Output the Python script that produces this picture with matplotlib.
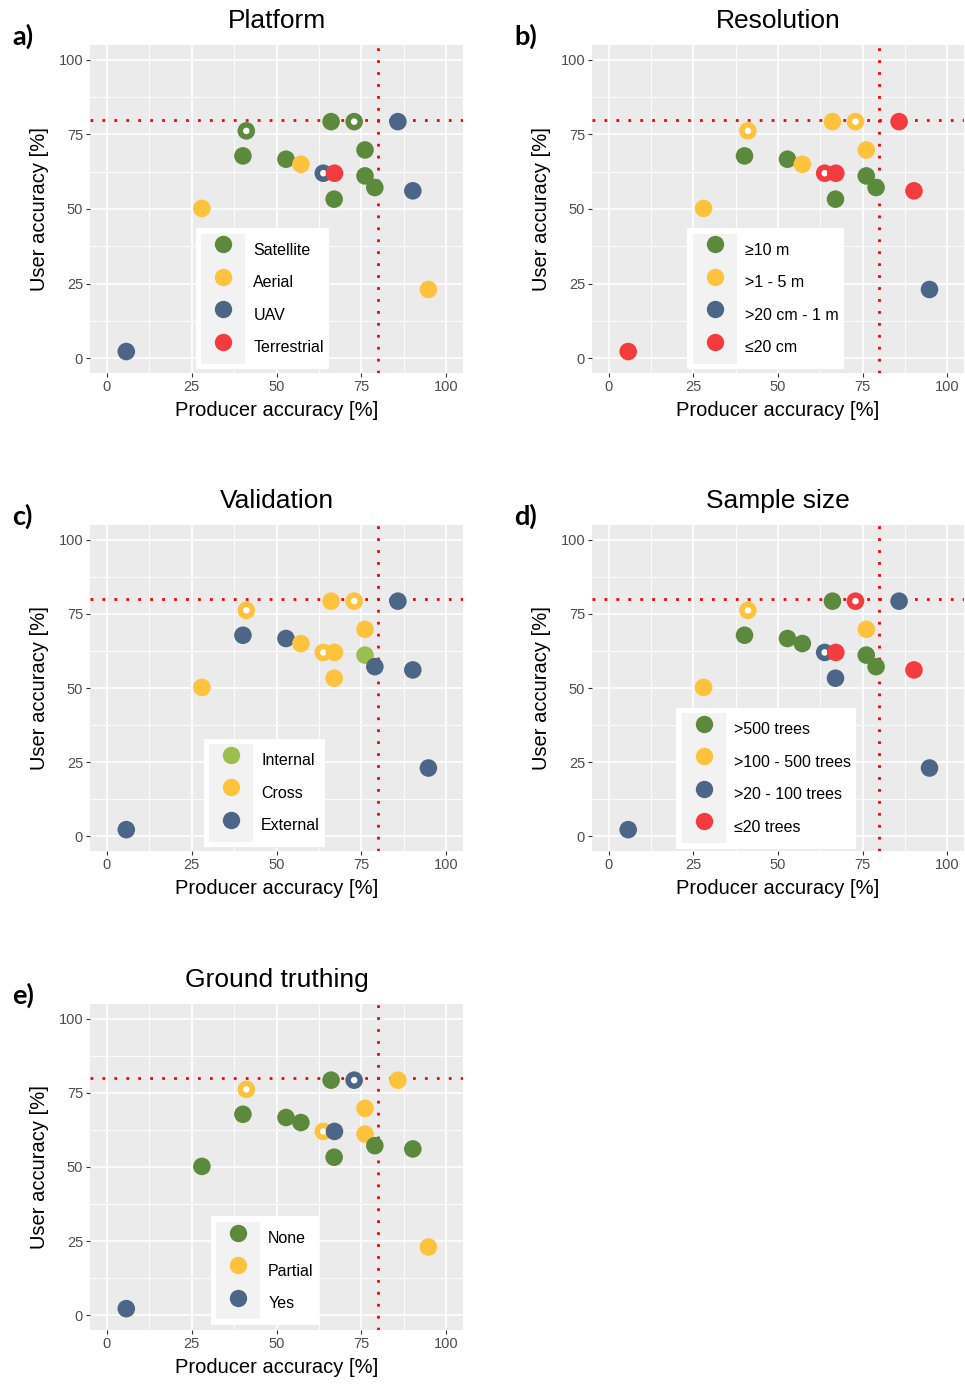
import matplotlib
matplotlib.use("Agg")
from matplotlib import pyplot as plt
from matplotlib.lines import Line2D
from matplotlib.patches import Rectangle
from matplotlib.legend_handler import HandlerTuple

plt.rcParams['font.family'] = ['Liberation Sans', 'DejaVu Sans']

# producer / user accuracy of each study (same 17 studies in every panel)
producer = [5.7, 28.0, 40.1, 41.1, 52.8, 57.2, 63.8, 67.1, 67.0, 66.1, 72.9, 76.1, 76.1, 79.0, 85.8, 90.2, 94.8]
user = [2.2, 50.2, 67.8, 76.2, 66.7, 65.0, 62.0, 62.0, 53.3, 79.3, 79.3, 69.8, 61.1, 57.2, 79.3, 56.1, 23.0]
# studies marked with a white centre dot
hollow = [False, False, False, True, False, False, True, False, False, False, True, False, False, False, False, False, False]

threshold = 80

platform_levels = ["Satellite", "Aerial", "UAV", "Terrestrial"]
platform = ["UAV", "Aerial", "Satellite", "Satellite", "Satellite", "Aerial", "UAV", "Terrestrial", "Satellite",
            "Satellite", "Satellite", "Satellite", "Satellite", "Satellite", "UAV", "UAV", "Aerial"]

resolution_levels = ["≥10 m", ">1 - 5 m", ">20 cm - 1 m", "≤20 cm"]
resolution = ["≤20 cm", ">1 - 5 m", "≥10 m", ">1 - 5 m", "≥10 m", ">1 - 5 m", "≤20 cm", "≤20 cm", "≥10 m",
              ">1 - 5 m", ">1 - 5 m", ">1 - 5 m", "≥10 m", "≥10 m", "≤20 cm", "≤20 cm", ">20 cm - 1 m"]

validation_levels = ["Internal", "Cross", "External"]
validation = ["External", "Cross", "External", "Cross", "External", "Cross", "Cross", "Cross", "Cross",
              "Cross", "Cross", "Cross", "Internal", "External", "External", "External", "External"]

sample_levels = [">500 trees", ">100 - 500 trees", ">20 - 100 trees", "≤20 trees"]
sample = [">20 - 100 trees", ">100 - 500 trees", ">500 trees", ">100 - 500 trees", ">500 trees", ">500 trees",
          ">20 - 100 trees", "≤20 trees", ">20 - 100 trees", ">500 trees", "≤20 trees", ">100 - 500 trees",
          ">500 trees", ">500 trees", ">20 - 100 trees", "≤20 trees", ">20 - 100 trees"]

ground_levels = ["None", "Partial", "Yes"]
ground = ["Yes", "None", "None", "Partial", "None", "None", "Partial", "Yes", "None",
          "None", "Yes", "Partial", "Partial", "None", "Partial", "None", "Partial"]

GREEN = '#5B8A3C'
YELLOW = '#FFC23C'
BLUE = '#4B6686'
RED = '#F43B3D'
LIGHTGREEN = '#9CBD50'

W, H = 965, 1386
fig = plt.figure(figsize=(W / 100, H / 100), dpi=100)


def add_axes(x0, y0, x1, y1):
    return fig.add_axes([x0 / W, 1 - y1 / H, (x1 - x0) / W, (y1 - y0) / H])


# one panel: ggplot-like grey panel with dotted 80 % thresholds
def panel(ax, cats, levels, colors, title, tag, legend_xy):
    ax.set_facecolor('#EBEBEB')
    for s in ax.spines.values():
        s.set_visible(False)
    ax.set_xlim(-5, 105)
    ax.set_ylim(-5, 105)
    ticks = [0, 25, 50, 75, 100]
    ax.set_xticks(ticks)
    ax.set_yticks(ticks)
    ax.set_xticks([12.5, 37.5, 62.5, 87.5], minor=True)
    ax.set_yticks([12.5, 37.5, 62.5, 87.5], minor=True)
    ax.grid(which='major', color='white', lw=1.2, zorder=0)
    ax.grid(which='minor', color='white', lw=0.6, zorder=0)
    ax.set_axisbelow(True)
    ax.tick_params(which='major', length=3, width=0.8, color='#333333', labelcolor='#4D4D4D',
                   labelsize=10.5, pad=2)
    ax.tick_params(which='minor', length=0)

    ax.axhline(threshold, color='#FF0000', lw=2, ls=(0, (1, 3.3)), zorder=1)
    ax.axvline(threshold, color='#FF0000', lw=2, ls=(0, (1, 3.3)), zorder=1)

    cmap = dict(zip(levels, colors))
    for i in range(len(producer)):
        ax.scatter(producer[i], user[i], s=160, color=cmap[cats[i]], edgecolors='none', zorder=3)
        if hollow[i]:
            ax.scatter(producer[i], user[i], s=22, color='white', edgecolors='none', zorder=3)

    ax.set_xlabel("Producer accuracy [%]", fontsize=14.5, color='black')
    ax.set_ylabel("User accuracy [%]", fontsize=14.5, color='black')
    ax.xaxis.set_label_coords(0.5, -0.085)
    ax.yaxis.set_label_coords(-0.11, 0.5)

    handles = [(Rectangle((0, 0), 1, 1, facecolor='#F2F2F2', edgecolor='none'),
                Line2D([], [], marker='o', ls='none', markersize=12.5, markerfacecolor=c, markeredgecolor='none'))
               for c in colors]
    leg = ax.legend(handles, levels, handler_map={tuple: HandlerTuple(ndivide=1, pad=0)},
                    loc='upper left', bbox_to_anchor=legend_xy, bbox_transform=ax.transData,
                    frameon=True, fancybox=False, edgecolor='none', facecolor='white', framealpha=1,
                    fontsize=11.5, handlelength=2.75, handleheight=2.75, labelspacing=0,
                    handletextpad=0.5, borderpad=0.35, borderaxespad=0)
    leg.set_zorder(5)

    pos = ax.get_position()
    fig.text(pos.x0 + pos.width / 2, pos.y1 + 24 / H, title, ha='center', va='center', fontsize=19)
    fig.text(pos.x0 - 78 / W, pos.y1 + 9 / H, tag, ha='left', va='center', fontsize=19.5,
             fontweight='bold', family=['Lato', 'DejaVu Sans'])


ax_a = add_axes(90, 45, 463, 373)
ax_b = add_axes(592, 45, 964, 373)
ax_c = add_axes(90, 525, 463, 851)
ax_d = add_axes(592, 525, 964, 851)
ax_e = add_axes(90, 1004, 463, 1330)

panel(ax_a, platform, platform_levels, [GREEN, YELLOW, BLUE, RED], "Platform", "a)", (26.2, 43.5))
panel(ax_b, resolution, resolution_levels, [GREEN, YELLOW, BLUE, RED], "Resolution", "b)", (23.1, 43.5))
panel(ax_c, validation, validation_levels, [LIGHTGREEN, YELLOW, BLUE], "Validation", "c)", (28.5, 32.9))
panel(ax_d, sample, sample_levels, [GREEN, YELLOW, BLUE, RED], "Sample size", "d)", (19.9, 43.3))
panel(ax_e, ground, ground_levels, [GREEN, YELLOW, BLUE], "Ground truthing", "e)", (30.6, 33.3))

fig.savefig("out.png", dpi=100)
